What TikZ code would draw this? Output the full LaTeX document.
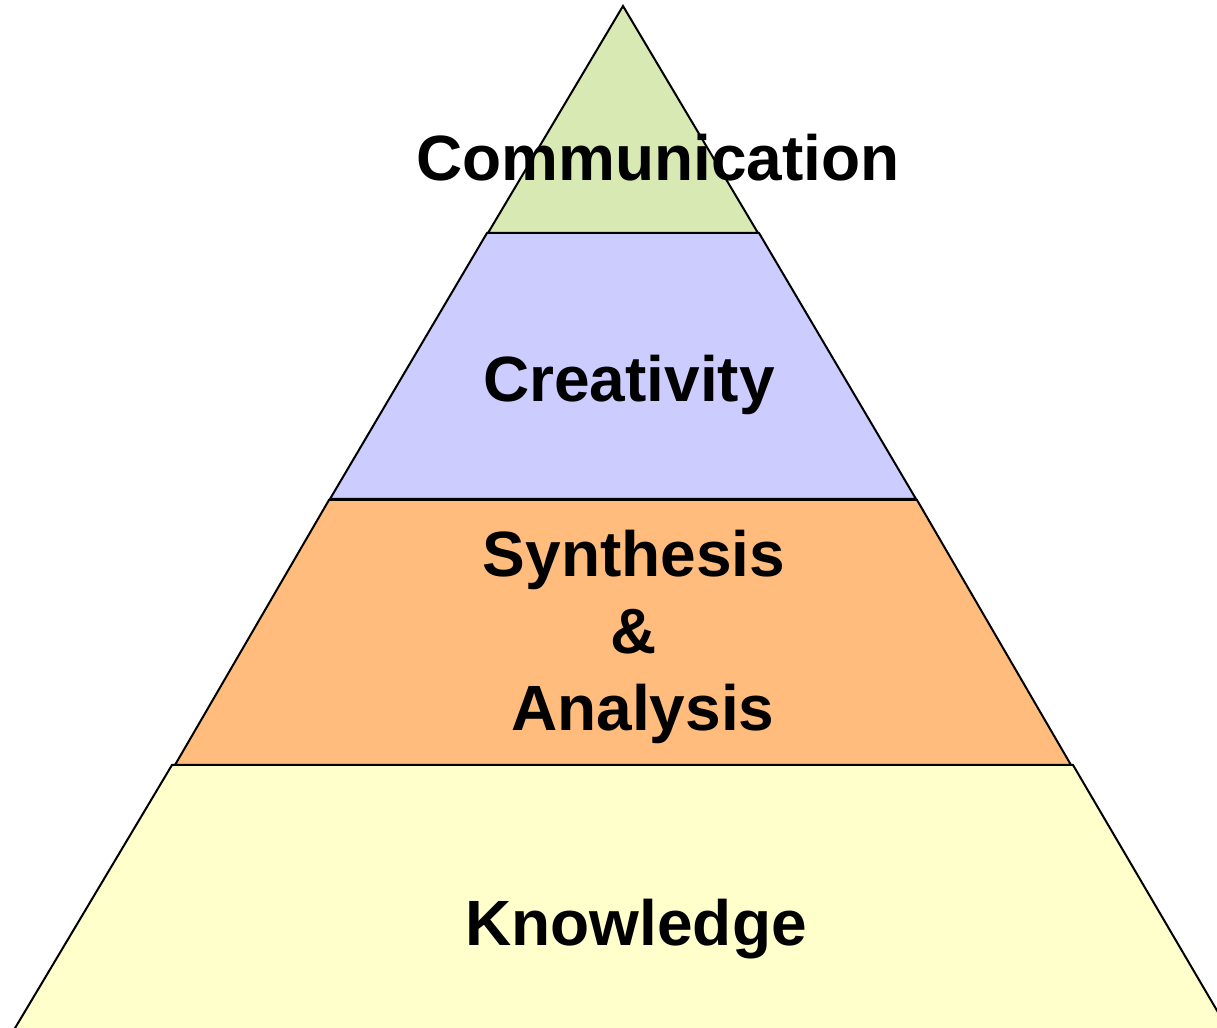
\documentclass[tikz,border=0pt]{standalone}
\usepackage{tikz}
\usepackage{xcolor}
\usepackage{fontspec}
\setmainfont{Liberation Sans}
\usetikzlibrary{calc,
	positioning}

\definecolor{tiertop}{RGB}{216,233,180}
\definecolor{tiercreat}{RGB}{204,204,255}
\definecolor{tiersynth}{RGB}{255,188,125}
\definecolor{tierbase}{RGB}{255,255,204}

\tikzset{tier/.style={draw=black, line width=1pt, line join=miter},
	tierlabel/.style={font=\fontsize{32}{38.5}\selectfont\bfseries, inner sep=0pt, anchor=base, align=center}}

\begin{document}
\begin{tikzpicture}[x=0.5pt, y=0.5pt]
            \useasboundingbox (0, 0) rectangle (1217, 1028);
            \clip (0, 0) rectangle (1217, 1028);

            \filldraw[tier, fill=tierbase] (172, 263) -- (1073, 263) -- (1246, -32) -- (-4, -32) -- cycle;
            \filldraw[tier, fill=tiersynth] (329, 528) -- (917, 528) -- (1071, 263) -- (175, 263) -- cycle;
            \filldraw[tier, fill=tiercreat] (487, 795) -- (759, 795) -- (916, 529) -- (330, 529) -- cycle;
            \filldraw[tier, fill=tiertop] (623, 1022) -- (758, 795) -- (488, 795) -- cycle;

            \node[tierlabel] (communication) at (658, 847) {Communication};
            \node[tierlabel] (creativity) at (629, 626) {Creativity};
            \node[tierlabel] (synthesis) at (634, 297) {Synthesis\\\&\\\ Analysis};
            \node[tierlabel] (knowledge) at (636, 82) {Knowledge};
        \end{tikzpicture}
\end{document}
